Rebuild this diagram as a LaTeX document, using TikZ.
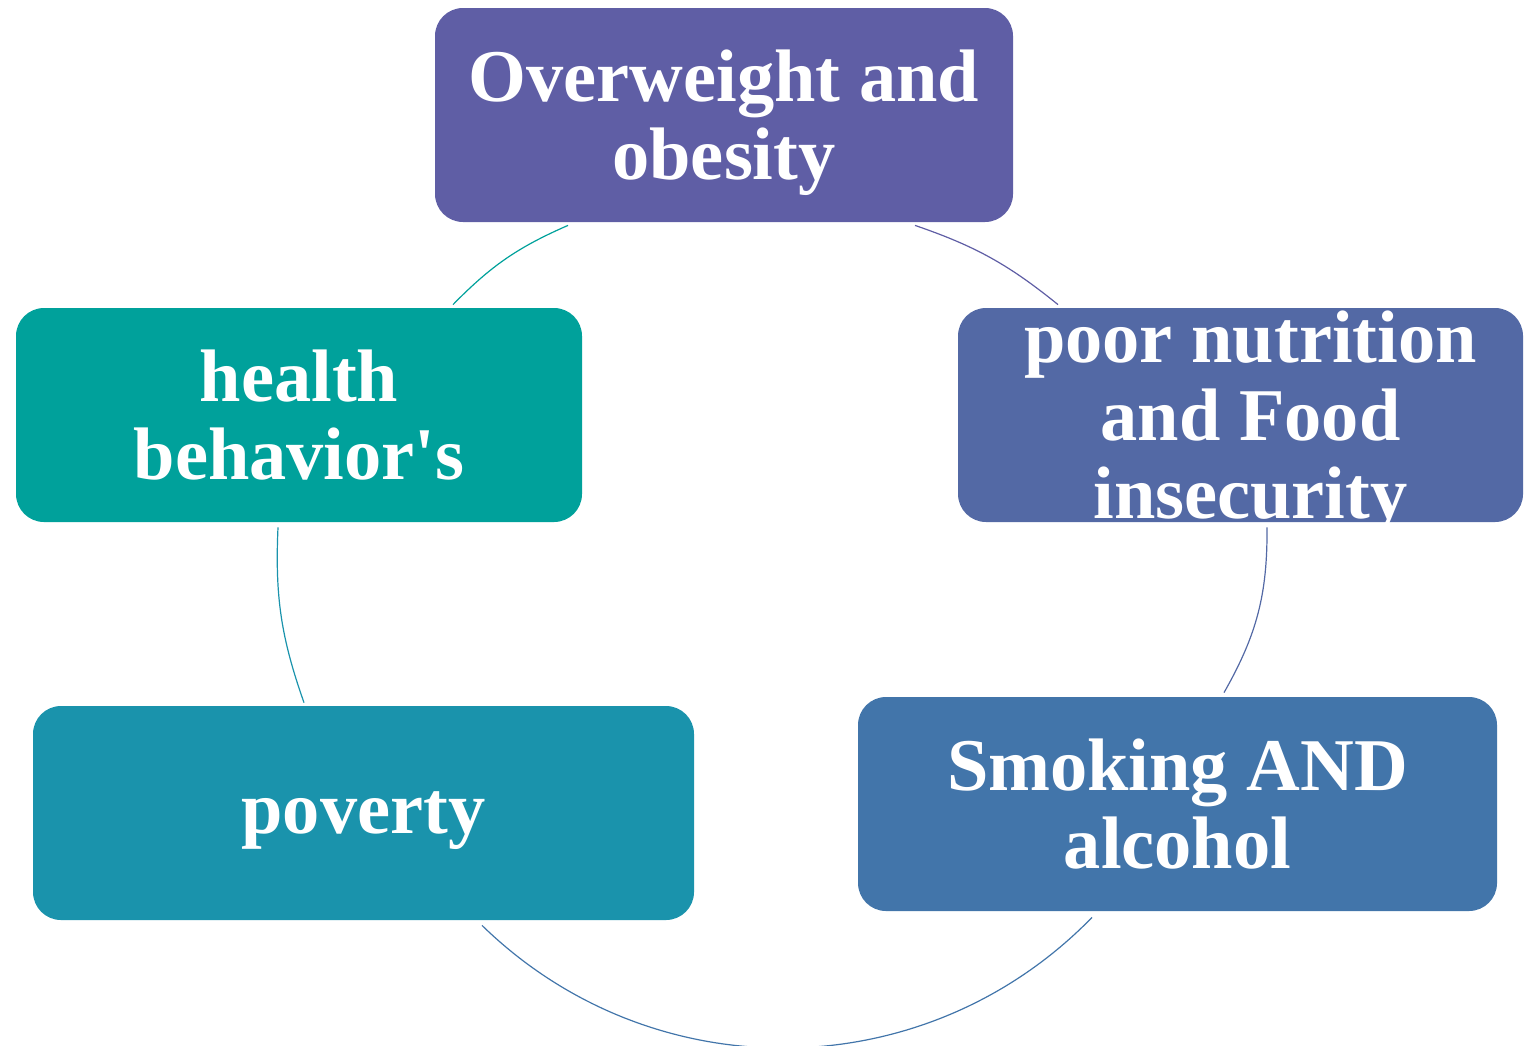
\documentclass[tikz,border=0pt]{standalone}
\usepackage{fontspec}
\setmainfont{Liberation Serif}
\usetikzlibrary{calc}

\definecolor{cObese}{RGB}{95,94,165}
\definecolor{cNutri}{RGB}{83,105,165}
\definecolor{cSmoke}{RGB}{66,117,170}
\definecolor{cPoor}{RGB}{26,147,172}
\definecolor{cHealth}{RGB}{0,161,155}

\begin{document}
\begin{tikzpicture}[x=0.5pt,y=-0.5pt,
        box/.style={rounded corners=14pt, inner sep=0pt, minimum height=107pt,
                text=white, align=center, text depth=0pt,
                font=\fontsize{37.2pt}{39pt}\selectfont\bfseries},
        link/.style={line width=0.6pt}]
                \useasboundingbox (0,0) rectangle (1524,1045);

                \node[box, fill=cObese, minimum width=289pt] (obese) at (724,115) {Overweight and\\obesity};
                \node[box, fill=cNutri, minimum width=282.5pt] (nutri) at (1240.5,415)
                        {\hspace*{10pt}poor nutrition\\\hspace*{10pt}and Food\\\hspace*{10pt}insecurity};
                \node[box, fill=cSmoke, minimum width=319.5pt] (smoke) at (1177.5,804) {Smoking AND\\alcohol};
                \node[box, fill=cPoor, minimum width=330.5pt] (poor) at (363.5,813) {poverty};
                \node[box, fill=cHealth, minimum width=283pt] (health) at (299,415) {health\\behavior\textquotesingle s};

                % cycle arcs, clockwise
                \draw[link, draw=cObese] ($(obese.south)+(191,3)$) to[bend left=10] ($(nutri.north)+(-182.5,-3)$);
                \draw[link, draw=cNutri] ($(nutri.south)+(26.5,5)$) to[bend left=15] ($(smoke.north)+(46.5,-4)$);
                \draw[link, draw=cSmoke] ($(smoke.south)+(-85.5,6)$) to[bend left=45] ($(poor.south)+(118.5,5)$);
                \draw[link, draw=cPoor] ($(poor.north)+(-59.5,-3)$) to[bend left=11] ($(health.south)+(-21,5)$);
                \draw[link, draw=cHealth] ($(health.north)+(154,-3)$) to[bend left=11] ($(obese.south)+(-156,3)$);
\end{tikzpicture}
\end{document}
